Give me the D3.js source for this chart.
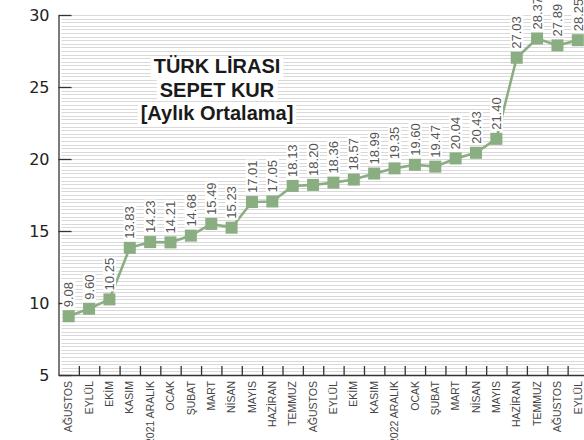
<!DOCTYPE html>
<html>
<head>
<meta charset="utf-8">
<script src="https://cdn.jsdelivr.net/npm/d3@7"></script>
<style>
  body { margin: 0; background: #fff; }
  svg { display: block; }
  .yaxis text { font-family: "DejaVu Sans", Verdana, sans-serif; font-size: 16px; fill: #222; }
  .yaxis line, .yaxis path, .xaxis line, .xaxis path { stroke: #333; stroke-width: 1.3; }
</style>
</head>
<body>
<script>
// categories (months) and monthly average basket rate
var months = ["AĞUSTOS","EYLÜL","EKİM","KASIM","2021 ARALIK","OCAK","ŞUBAT","MART","NİSAN","MAYIS","HAZİRAN","TEMMUZ",
              "AĞUSTOS","EYLÜL","EKİM","KASIM","2022 ARALIK","OCAK","ŞUBAT","MART","NİSAN","MAYIS","HAZİRAN","TEMMUZ",
              "AĞUSTOS","EYLÜL"];
var kur = [9.08, 9.60, 10.25, 13.83, 14.23, 14.21, 14.68, 15.49, 15.23, 17.01, 17.05, 18.13,
           18.20, 18.36, 18.57, 18.99, 19.35, 19.60, 19.47, 20.04, 20.43, 21.40, 27.03, 28.37,
           27.89, 28.25];
var yTicks = [5, 10, 15, 20, 25, 30];
var titleLines = ["TÜRK LİRASI", "SEPET KUR", "[Aylık Ortalama]"];

(function() {
var width = 584, height = 440;
var plotLeft = 58.5, plotRight = 588, plotTop = 15, plotBottom = 375;
var green = "#8aae81";

var svg = d3.select("body").append("svg")
    .attr("width", width)
    .attr("height", height);

var n = months.length;
var x = d3.scaleBand().domain(d3.range(n)).range([plotLeft, plotRight]).paddingInner(0);
var xb = d3.scaleLinear().domain([0, n]).range([plotLeft, plotRight]); // band boundaries
var y = d3.scaleLinear().domain([5, 30]).range([plotBottom, plotTop]);

// fine gridlines every 0.25
svg.append("g")
   .selectAll("line")
   .data(d3.range(5.25, 30.01, 0.25))
   .enter().append("line")
   .attr("x1", plotLeft + 3)
   .attr("x2", width)
   .attr("y1", function(d) { return Math.round(y(d)) + 0.5; })
   .attr("y2", function(d) { return Math.round(y(d)) + 0.5; })
   .attr("stroke", "#d9d9d9")
   .attr("stroke-width", 1);

// title with white boxes behind each line
var title = svg.append("g").attr("transform", "translate(217,0)");
titleLines.forEach(function(t, i) {
    var tt = title.append("text")
       .attr("x", 0)
       .attr("y", 73 + i * 23.5)
       .attr("text-anchor", "middle")
       .attr("font-family", "'Liberation Sans', Arial, sans-serif")
       .attr("font-weight", "bold")
       .attr("font-size", "20px")
       .attr("fill", "#1a1a1a")
       .text(t);
    var bb = tt.node().getBBox();
    title.insert("rect", "text")
       .attr("x", bb.x - 3)
       .attr("y", bb.y + 1)
       .attr("width", bb.width + 6)
       .attr("height", bb.height - 1)
       .attr("fill", "#fff");
});

// y axis
svg.append("g")
   .attr("class", "yaxis")
   .attr("transform", "translate(" + plotLeft + ",0)")
   .call(d3.axisLeft(y).tickValues(yTicks).tickSizeInner(-13).tickSizeOuter(0).tickPadding(9));

// x axis: ticks at band boundaries, pointing up
svg.append("g")
   .attr("class", "xaxis")
   .attr("transform", "translate(0," + plotBottom + ")")
   .call(d3.axisBottom(xb).tickValues(d3.range(1, n + 1)).tickFormat("").tickSizeInner(-9).tickSizeOuter(0));

// month labels
svg.append("g")
   .selectAll("text")
   .data(months)
   .enter().append("text")
   .attr("transform", function(d, i) {
       return "translate(" + (x(i) + x.bandwidth() / 2) + ",381) rotate(-90)";
   })
   .attr("dy", "0.35em")
   .attr("text-anchor", "end")
   .attr("font-family", "'Liberation Sans', Arial, sans-serif")
   .attr("font-size", "10.5px")
   .attr("fill", "#444")
   .text(function(d) { return d; });

// line
var line = d3.line()
    .x(function(d, i) { return x(i) + x.bandwidth() / 2; })
    .y(function(d) { return y(d); });

svg.append("path")
   .datum(kur)
   .attr("d", line)
   .attr("fill", "none")
   .attr("stroke", green)
   .attr("stroke-width", 2.6);

// value labels with small white background
var labels = svg.append("g")
   .selectAll("g")
   .data(kur)
   .enter().append("g")
   .attr("transform", function(d, i) {
       return "translate(" + (x(i) + x.bandwidth() / 2) + "," + (y(d) - 9) + ") rotate(-90)";
   });

labels.append("text")
   .attr("dy", "0.36em")
   .attr("text-anchor", "start")
   .attr("font-family", "'Liberation Sans', Arial, sans-serif")
   .attr("font-size", "13px")
   .attr("fill", "#555")
   .text(function(d) { return d.toFixed(2); });

labels.each(function() {
    var g = d3.select(this);
    var bb = g.select("text").node().getBBox();
    g.insert("rect", "text")
     .attr("x", bb.x - 1)
     .attr("y", bb.y + 1)
     .attr("width", bb.width + 2)
     .attr("height", bb.height - 2)
     .attr("fill", "#fff");
});

// square markers
svg.append("g")
   .selectAll("rect")
   .data(kur)
   .enter().append("rect")
   .attr("x", function(d, i) { return x(i) + x.bandwidth() / 2 - 6; })
   .attr("y", function(d) { return y(d) - 6; })
   .attr("width", 12)
   .attr("height", 12)
   .attr("fill", green);
})();
</script>
</body>
</html>
